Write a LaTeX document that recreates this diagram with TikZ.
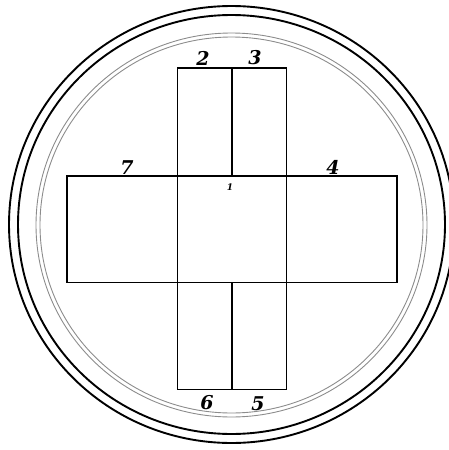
\documentclass[tikz,border=0pt]{standalone}
\usepackage{fontspec}
\newfontfamily\numfont{DejaVu Serif}
\begin{document}
\begin{tikzpicture}[x=1pt,y=-1pt,
  ring/.style={draw=black,line width=1.9pt},
  thinring/.style={draw=black!45,line width=0.9pt},
  box/.style={draw=black,line width=1.9pt},
  num/.style={inner sep=0pt,font=\numfont\fontsize{19}{19}\selectfont\bfseries\itshape},
  smallnum/.style={inner sep=0pt,font=\numfont\fontsize{9}{9}\selectfont\bfseries\itshape}]
\useasboundingbox (0,0) rectangle (448,450);
% rings
\draw[ring] (231.5,224.5) ellipse [x radius=222.5, y radius=218.5];
\draw[ring] (231.5,224.5) ellipse [x radius=213.5, y radius=209.5];
\draw[thinring] (231.5,225) ellipse [x radius=195.5, y radius=192];
\draw[thinring] (231.5,225) ellipse [x radius=191.5, y radius=188];
% cross
\draw[box] (67,176) rectangle (397,282.5);
\draw[box] (177.5,68) rectangle (286.5,389.5);
\draw[box] (232,68) -- (232,176);
\draw[box] (232,282.5) -- (232,389.5);
% labels
\node[num] (n2) at (203,58) {2};
\node[num] (n3) at (255,58) {3};
\node[num] (n7) at (127,168) {7};
\node[num] (n4) at (333,167) {4};
\node[smallnum] (n1) at (230,187) {1};
\node[num] (n6) at (207,403) {6};
\node[num] (n5) at (258,404) {5};
\end{tikzpicture}
\end{document}
